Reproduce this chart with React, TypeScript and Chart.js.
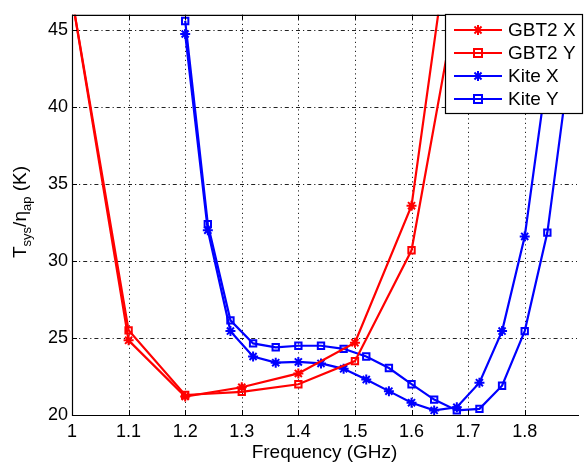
import React, { useEffect, useRef } from 'react';
import { Chart, registerables } from 'chart.js';

Chart.register(...registerables);

// ---- data ----
const gbtFreq = [1.0, 1.1, 1.2, 1.3, 1.4, 1.5, 1.6, 1.7];
const gbt2X = [47.1, 24.85, 21.2, 21.8, 22.7, 24.7, 33.6, 60];
const gbt2Y = [47.1, 25.5, 21.3, 21.5, 22.0, 23.5, 30.7, 51];

const kiteFreq = [1.2, 1.24, 1.28, 1.32, 1.36, 1.4, 1.44, 1.48, 1.52, 1.56, 1.6, 1.64, 1.68, 1.72, 1.76, 1.8, 1.84, 1.88];
const kiteX = [44.75, 32.0, 25.45, 23.8, 23.4, 23.45, 23.35, 23.0, 22.3, 21.55, 20.8, 20.3, 20.5, 22.1, 25.45, 31.6, 42.3, 62];
const kiteY = [45.6, 32.4, 26.15, 24.65, 24.4, 24.5, 24.5, 24.3, 23.8, 23.05, 22.0, 21.0, 20.3, 20.4, 21.9, 25.45, 31.85, 43];

const xTicks = [1, 1.1, 1.2, 1.3, 1.4, 1.5, 1.6, 1.7, 1.8];
const yTicks = [20, 25, 30, 35, 40, 45];
const seriesNames = ['GBT2 X', 'GBT2 Y', 'Kite X', 'Kite Y'];
const seriesColors = ['#ff0000', '#ff0000', '#0000ff', '#0000ff'];
const seriesMarkers = ['star', 'rect', 'star', 'rect'];
const xTitle = 'Frequency (GHz)';

const FONT = '"Liberation Sans", Arial, Helvetica, sans-serif';

function drawMarker(ctx: CanvasRenderingContext2D, style: string, x: number, y: number, r: number) {
  ctx.beginPath();
  if (style === 'rect') {
    ctx.rect(x - r, y - r, 2 * r, 2 * r);
  } else {
    for (let k = 0; k < 4; k++) {
      const a = (k * Math.PI) / 4;
      ctx.moveTo(x - r * Math.cos(a), y - r * Math.sin(a));
      ctx.lineTo(x + r * Math.cos(a), y + r * Math.sin(a));
    }
  }
  ctx.stroke();
}

const decorPlugin = {
  id: 'decor',
  beforeDatasetsDraw(chart: any) {
    const { ctx, chartArea: a, scales } = chart;
    ctx.save();
    ctx.strokeStyle = '#222';
    ctx.lineWidth = 1;
    ctx.setLineDash([1.2, 3.3]);
    xTicks.forEach((v) => {
      const px = Math.round(scales.x.getPixelForValue(v)) + 0.5;
      ctx.beginPath();
      ctx.moveTo(px, a.top);
      ctx.lineTo(px, a.bottom);
      ctx.stroke();
    });
    ctx.setLineDash([4, 3, 1.2, 3]);
    yTicks.forEach((v) => {
      const py = Math.round(scales.y.getPixelForValue(v)) + 0.5;
      ctx.beginPath();
      ctx.moveTo(a.left, py);
      ctx.lineTo(a.right, py);
      ctx.stroke();
    });
    ctx.restore();
  },
  afterDatasetsDraw(chart: any) {
    const { ctx, chartArea: a, scales } = chart;
    ctx.save();
    // axes box (right side falls outside the picture)
    ctx.setLineDash([]);
    ctx.strokeStyle = '#000';
    ctx.lineWidth = 1.2;
    ctx.beginPath();
    ctx.moveTo(a.right + 2, a.top + 0.5);
    ctx.lineTo(a.left + 0.5, a.top + 0.5);
    ctx.lineTo(a.left + 0.5, a.bottom + 0.5);
    ctx.lineTo(a.right + 2, a.bottom + 0.5);
    ctx.stroke();
    // inner ticks
    ctx.lineWidth = 1;
    xTicks.forEach((v) => {
      const px = Math.round(scales.x.getPixelForValue(v)) + 0.5;
      ctx.beginPath();
      ctx.moveTo(px, a.bottom);
      ctx.lineTo(px, a.bottom - 5);
      ctx.moveTo(px, a.top);
      ctx.lineTo(px, a.top + 5);
      ctx.stroke();
    });
    yTicks.forEach((v) => {
      const py = Math.round(scales.y.getPixelForValue(v)) + 0.5;
      ctx.beginPath();
      ctx.moveTo(a.left, py);
      ctx.lineTo(a.left + 5, py);
      ctx.stroke();
    });

    // legend
    const lx = 445.5;
    const ly = 14.5;
    const lw = 137;
    const lh = 99;
    ctx.fillStyle = '#fff';
    ctx.fillRect(lx, ly, lw, lh);
    ctx.strokeStyle = '#000';
    ctx.lineWidth = 1.2;
    ctx.strokeRect(lx, ly, lw, lh);
    const rows = [30, 53, 76, 99];
    ctx.font = `19px ${FONT}`;
    ctx.textBaseline = 'middle';
    ctx.textAlign = 'left';
    seriesNames.forEach((name, i) => {
      const y = rows[i];
      ctx.strokeStyle = seriesColors[i];
      ctx.lineWidth = 2;
      ctx.beginPath();
      ctx.moveTo(454, y);
      ctx.lineTo(502, y);
      ctx.stroke();
      drawMarker(ctx, seriesMarkers[i], 478, y, seriesMarkers[i] === 'rect' ? 4 : 5);
      ctx.fillStyle = '#000';
      ctx.fillText(name, 508, y + 1);
    });

    // x title
    ctx.fillStyle = '#000';
    ctx.font = `19px ${FONT}`;
    ctx.textAlign = 'center';
    ctx.textBaseline = 'middle';
    ctx.fillText(xTitle, (a.left + a.right) / 2, 453);

    // y title with subscripts
    const big = `19px ${FONT}`;
    const small = `13px ${FONT}`;
    const parts: [string, string, number][] = [
      ['T', big, 0],
      ['sys', small, 5],
      ['/', big, 0],
      ['\u03B7', big, 0],
      ['ap', small, 5],
      [' (K)', big, 0],
    ];
    let total = 0;
    parts.forEach(([t, f]) => {
      ctx.font = f;
      total += ctx.measureText(t).width;
    });
    ctx.translate(26, 212);
    ctx.rotate(-Math.PI / 2);
    ctx.textAlign = 'left';
    ctx.textBaseline = 'alphabetic';
    let cx = -total / 2;
    parts.forEach(([t, f, off]) => {
      ctx.font = f;
      ctx.fillText(t, cx, off);
      cx += ctx.measureText(t).width;
    });
    ctx.restore();
  },
};

export default function App() {
  const ref = useRef<HTMLCanvasElement | null>(null);

  useEffect(() => {
    if (!ref.current) return;
    const mk = (i: number, fx: number[], vals: number[]) => ({
      label: seriesNames[i],
      data: fx.map((f, k) => ({ x: f, y: vals[k] })),
      borderColor: seriesColors[i],
      backgroundColor: 'transparent',
      pointBorderColor: seriesColors[i],
      pointBackgroundColor: 'transparent',
      pointStyle: seriesMarkers[i] as any,
      pointRadius: seriesMarkers[i] === 'rect' ? 4.5 : 5,
      pointBorderWidth: 2,
      borderWidth: 2.2,
      tension: 0,
      clip: 0,
    });
    const chart = new Chart(ref.current, {
      type: 'line',
      data: {
        datasets: [
          mk(0, gbtFreq, gbt2X),
          mk(1, gbtFreq, gbt2Y),
          mk(2, kiteFreq, kiteX),
          mk(3, kiteFreq, kiteY),
        ],
      },
      options: {
        animation: false,
        responsive: false,
        maintainAspectRatio: false,
        devicePixelRatio: 1,
        layout: { padding: { top: 7, right: 0, left: 0, bottom: 0 } },
        plugins: { legend: { display: false }, tooltip: { enabled: false } },
        scales: {
          x: {
            type: 'linear',
            min: 1,
            max: 1.8924,
            afterBuildTicks: (s: any) => {
              s.ticks = xTicks.map((v) => ({ value: v }));
            },
            afterFit: (s: any) => {
              s.height = 56;
            },
            ticks: {
              color: '#000',
              font: { size: 18, family: FONT },
              padding: 6,
              maxRotation: 0,
              autoSkip: false,
              callback: (v: any) => String(v),
            },
            grid: { display: false, drawTicks: false },
            border: { display: false },
          },
          y: {
            type: 'linear',
            min: 20,
            max: 46,
            afterBuildTicks: (s: any) => {
              s.ticks = yTicks.map((v) => ({ value: v }));
            },
            afterFit: (s: any) => {
              s.width = 72;
            },
            ticks: {
              color: '#000',
              font: { size: 18, family: FONT },
              padding: 4,
              callback: (v: any) => String(v),
            },
            grid: { display: false, drawTicks: false },
            border: { display: false },
          },
        },
      },
      plugins: [decorPlugin],
    });
    return () => chart.destroy();
  }, []);

  return (
    <div style={{ position: 'fixed', left: 0, top: 0, width: 584, height: 471, background: '#fff' }}>
      <canvas ref={ref} width={584} height={471} style={{ width: 584, height: 471, display: 'block' }} />
    </div>
  );
}
